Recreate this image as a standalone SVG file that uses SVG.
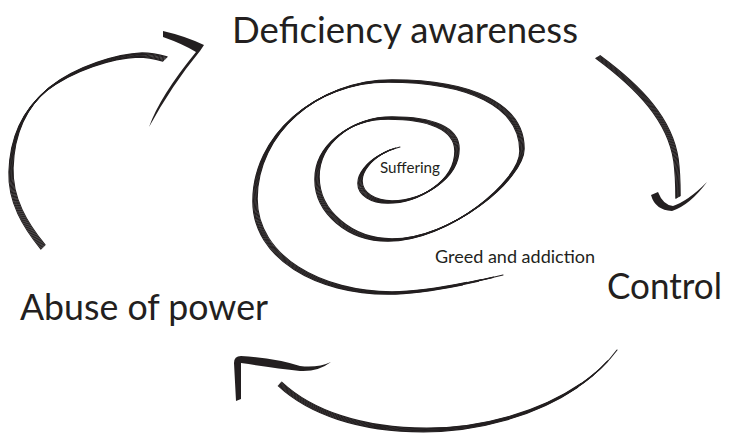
<svg xmlns="http://www.w3.org/2000/svg" xmlns:xlink="http://www.w3.org/1999/xlink" width="730" height="434" viewBox="0 0 730 434">
  <style>
    .ink { fill: none; stroke: #231f20; stroke-width: 1.1; stroke-linecap: round; stroke-linejoin: round; }
    .head { fill: #231f20; stroke: none; }
    .label { font-family: Lato, "Open Sans", "Liberation Sans", sans-serif; fill: #231f20; }
    .big { font-size: 37px; }
    .small { font-size: 17px; }
  </style>
  <defs>
    <!-- centre lines of the brush strokes; each is stamped several times along a slanted nib -->
    <path id="sp" class="ink" pathLength="1000" d="M503,275 C470,283 425,293 390,293 C320,293 255,258 255,200 C255,135 316,81 390,81 C470,81 522,105 522,150 C522,180 450,240 390,240 C350,240 317,212 317,178 C317,145 350,118 390,118 C430,118 457,128 457,150 C457,180 420,202 390,202 C373,202 360,194 360,182 C360,168 378,152 400,147"/>
    <path id="a1" class="ink" d="M43,247 C25,225 10,200 11,170 C12,135 25,108 48,89 C75,68 115,56 140,55 C150,55 158,57 165,59"/>
    <path id="a2" class="ink" d="M598,57 C640,88 670,120 676,160 C678,175 678,185 678,197"/>
    <path id="a3" class="ink" pathLength="100" d="M280,384 C310,412 360,430 425,430 C500,430 580,400 617,350"/>
  </defs>

  <!-- labels -->
  <g id="deficiency-awareness">
    <text class="label big" x="232" y="43" textLength="346" lengthAdjust="spacingAndGlyphs">Deficiency awareness</text>
  </g>
  <g id="control">
    <text class="label big" x="607" y="299" textLength="115" lengthAdjust="spacingAndGlyphs">Control</text>
  </g>
  <g id="abuse-of-power">
    <text class="label big" x="20" y="320" textLength="248" lengthAdjust="spacingAndGlyphs">Abuse of power</text>
  </g>

  <!-- central spiral with its two inner labels -->
  <g id="spiral">
    <use href="#sp" transform="translate(-2.23,1.23)" style="stroke-dasharray:955 2000;stroke-dashoffset:-30"/>
    <use href="#sp" transform="translate(-1.49,0.82)" style="stroke-dasharray:973 2000;stroke-dashoffset:-18"/>
    <use href="#sp" transform="translate(-0.74,0.41)" style="stroke-dasharray:988 2000;stroke-dashoffset:-8"/>
    <use href="#sp"/>
    <use href="#sp" transform="translate(0.74,-0.41)" style="stroke-dasharray:988 2000;stroke-dashoffset:-8"/>
    <use href="#sp" transform="translate(1.49,-0.82)" style="stroke-dasharray:973 2000;stroke-dashoffset:-18"/>
    <use href="#sp" transform="translate(2.23,-1.23)" style="stroke-dasharray:955 2000;stroke-dashoffset:-30"/>
  </g>
  <g id="greed-and-addiction">
    <text class="label small" x="435" y="263" textLength="160" lengthAdjust="spacingAndGlyphs">Greed and addiction</text>
  </g>
  <g id="suffering">
    <text class="label" x="380" y="173" font-size="15" textLength="60" lengthAdjust="spacingAndGlyphs">Suffering</text>
  </g>

  <!-- cycle arrows -->
  <g id="connectors">
    <g id="abuse-to-deficiency">
      <use href="#a1" transform="translate(-2.12,2.12)"/>
      <use href="#a1" transform="translate(-1.41,1.41)"/>
      <use href="#a1" transform="translate(-0.71,0.71)"/>
      <use href="#a1"/>
      <use href="#a1" transform="translate(0.71,-0.71)"/>
      <use href="#a1" transform="translate(1.41,-1.41)"/>
      <use href="#a1" transform="translate(2.12,-2.12)"/>
      <path class="head" d="M163,31 Q185,36 204,45 L200,51 Q172,85 149,127 Q160,96 196,52 Q183,44 163,37 Z"/>
    </g>
    <g id="deficiency-to-control">
      <use href="#a2" transform="translate(-2.19,1.31)"/>
      <use href="#a2" transform="translate(-1.46,0.87)"/>
      <use href="#a2" transform="translate(-0.73,0.44)"/>
      <use href="#a2"/>
      <use href="#a2" transform="translate(0.73,-0.44)"/>
      <use href="#a2" transform="translate(1.46,-0.87)"/>
      <use href="#a2" transform="translate(2.19,-1.31)"/>
      <path class="head" d="M651,195 Q655,210 672,211 Q690,205 707,182 Q688,201 673,206 Q663,205 658,192 Z"/>
    </g>
    <g id="control-to-abuse">
      <use href="#a3" transform="translate(-1.71,1.89)" style="stroke-dasharray:86 200"/>
      <use href="#a3" transform="translate(-1.14,1.26)" style="stroke-dasharray:91 200"/>
      <use href="#a3" transform="translate(-0.57,0.63)" style="stroke-dasharray:96 200"/>
      <use href="#a3"/>
      <use href="#a3" transform="translate(0.57,-0.63)" style="stroke-dasharray:96 200"/>
      <use href="#a3" transform="translate(1.14,-1.26)" style="stroke-dasharray:91 200"/>
      <use href="#a3" transform="translate(1.71,-1.89)" style="stroke-dasharray:86 200"/>
      <path class="head" d="M236,401 L234,363 Q234,356 241,356 Q275,358 300,366 Q318,368 331,362 Q318,372 300,371 Q275,368 241,363 L241,399 Z"/>
    </g>
  </g>
</svg>
